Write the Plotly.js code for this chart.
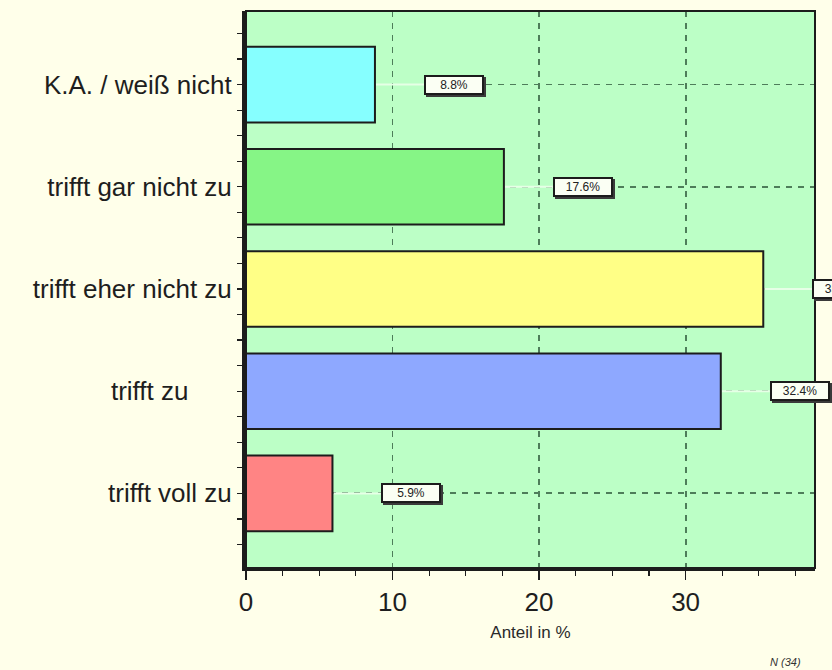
<!DOCTYPE html>
<html>
<head>
<meta charset="utf-8">
<script src="https://cdn.plot.ly/plotly-3.0.1.min.js"></script>
<style>
  html, body { margin: 0; padding: 0; background: #FFFFEA; overflow: hidden; }
  #chart { width: 832px; height: 670px; }
</style>
</head>
<body>
<div id="chart"></div>
<script>
// Answer categories, bottom to top
const categories = ["trifft voll zu", "trifft zu", "trifft eher nicht zu", "trifft gar nicht zu", "K.A. / weiß nicht"];
// Axis labels (the "trifft zu" label is padded on the right)
const tickLabels = ["trifft voll zu", "trifft zu\u00A0\u00A0\u00A0\u00A0\u00A0\u00A0", "trifft eher nicht zu", "trifft gar nicht zu", "K.A. / weiß nicht"];
// Share of answers in percent (N = 34)
const shares = [5.9, 32.4, 35.3, 17.6, 8.8];
const sampleNote = "N (34)";

const barColors = ["#FF8484", "#8EA8FF", "#FFFF86", "#86F586", "#86FFFF"];
const ink = "#1c1c1c";
const gridColor = "#4E7D5A";

const yPos = categories.map((_, i) => i);
const xMax = Math.max(...shares) * 1.1;

const trace = {
  type: "bar",
  orientation: "h",
  x: shares,
  y: yPos,
  width: 0.74,
  marker: { color: barColors, line: { color: ink, width: 2 } },
  hoverinfo: "skip"
};

// Light leader line from each bar end to its value label
const leaders = shares.map((v, i) => ({
  type: "line", layer: "between",
  xref: "x", yref: "y",
  xsizemode: "pixel", xanchor: v, x0: 1, x1: 49,
  y0: yPos[i], y1: yPos[i],
  line: { color: "#E6FFE6", width: 2 }
}));

// Thin frame around the plot area
const frame = {
  type: "rect", xref: "paper", yref: "paper", x0: 0, x1: 1, y0: 0, y1: 1,
  line: { color: ink, width: 2 }, layer: "above"
};

const labelFont = { family: "Liberation Sans, Arial, sans-serif", size: 12, color: "#222" };
const shadows = shares.map((v, i) => ({
  x: v, y: yPos[i], xref: "x", yref: "y",
  xanchor: "left", yanchor: "middle", xshift: 51, yshift: -2,
  text: "", showarrow: false, width: 54, height: 14,
  bgcolor: "#3a3a3a", bordercolor: "#3a3a3a", borderwidth: 2, borderpad: 1
}));
const valueLabels = shares.map((v, i) => ({
  x: v, y: yPos[i], xref: "x", yref: "y",
  xanchor: "left", yanchor: "middle", xshift: 49,
  text: v.toFixed(1) + "%", showarrow: false, width: 54, height: 14,
  font: labelFont, align: "center",
  bgcolor: "#FBFFF4", bordercolor: ink, borderwidth: 2, borderpad: 1
}));

const note = {
  xref: "paper", yref: "paper", x: 0.948, y: -0.169,
  xanchor: "center", yanchor: "middle", showarrow: false,
  text: "<i>" + sampleNote + "</i>",
  font: { family: "Liberation Sans, Arial, sans-serif", size: 11, color: "#333" }
};

const axisFont = { family: "Liberation Sans, Arial, sans-serif", size: 26, color: "#1e1e1e" };

const layout = {
  width: 832, height: 670,
  margin: { l: 246, r: 17, t: 11, b: 102 },
  paper_bgcolor: "#FFFFEA",
  plot_bgcolor: "#BCFFC6",
  showlegend: false,
  bargap: 0,
  xaxis: {
    range: [0, xMax],
    dtick: 10, tick0: 0,
    ticks: "outside", ticklen: 9, tickwidth: 1.5, tickcolor: ink,
    tickfont: axisFont,
    showline: true, linewidth: 3, linecolor: ink,
    showgrid: true, gridcolor: gridColor, gridwidth: 1.8, griddash: "6px,6px",
    zeroline: false,
    minor: { dtick: 2.5, tick0: 0, ticks: "outside", ticklen: 5, tickwidth: 1.2, tickcolor: ink, showgrid: false },
    title: { text: "Anteil in %", font: { family: "Liberation Sans, Arial, sans-serif", size: 17, color: "#2a2a2a" }, standoff: 10 },
    fixedrange: true
  },
  yaxis: {
    range: [-0.73, 4.72],
    tickmode: "array", tickvals: yPos, ticktext: tickLabels,
    ticks: "outside", ticklen: 5, tickwidth: 1.2, tickcolor: ink,
    tickfont: axisFont,
    showline: true, linewidth: 4, linecolor: ink,
    showgrid: true, gridcolor: gridColor, gridwidth: 1.8, griddash: "6px,6px",
    zeroline: false,
    minor: { tickmode: "linear", dtick: 0.25, tick0: 0, ticks: "outside", ticklen: 5, tickwidth: 1.2, tickcolor: ink, showgrid: false },
    fixedrange: true
  },
  shapes: leaders.concat([frame]),
  annotations: shadows.concat(valueLabels, [note])
};

Plotly.newPlot("chart", [trace], layout, { displayModeBar: false, staticPlot: true });
</script>
</body>
</html>
